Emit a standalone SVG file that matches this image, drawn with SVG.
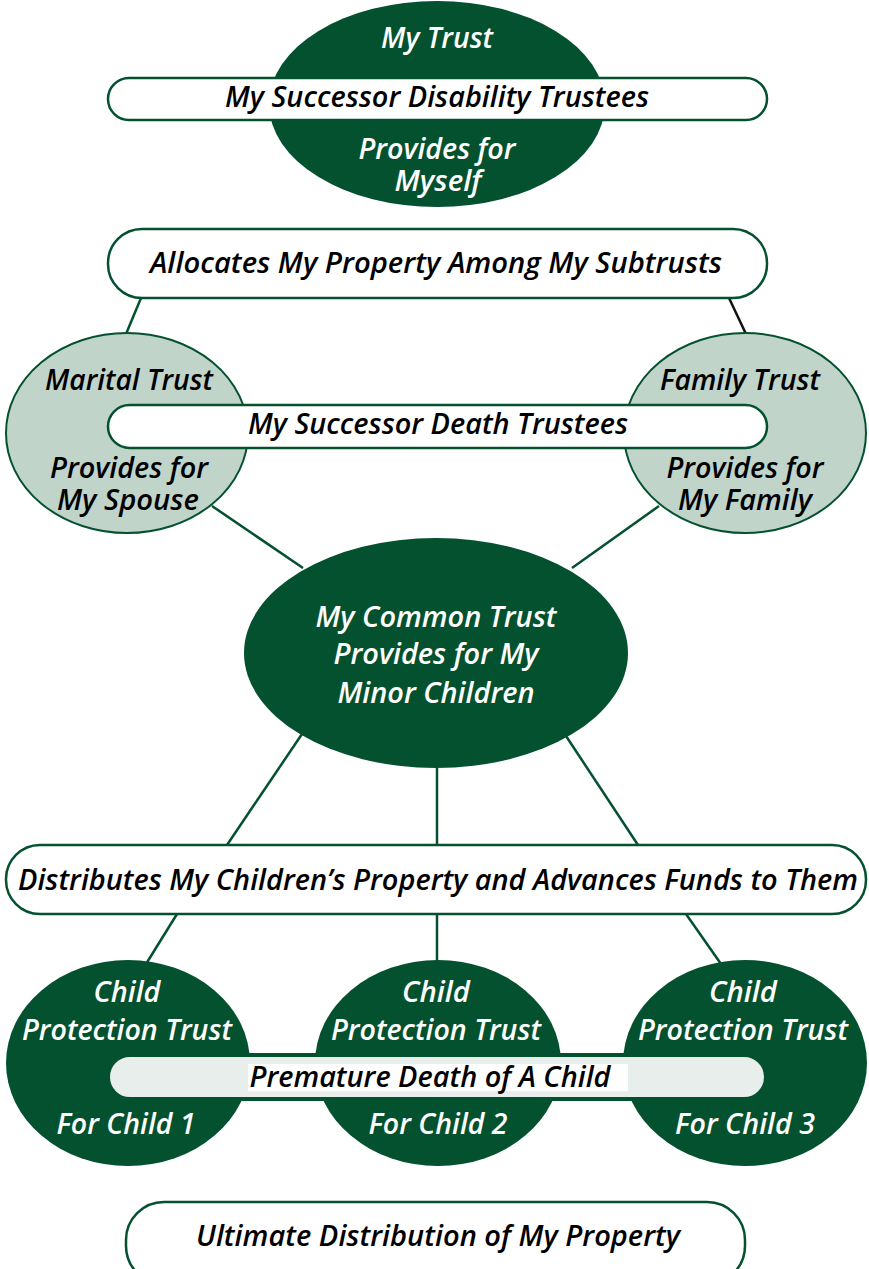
<svg xmlns="http://www.w3.org/2000/svg" width="869" height="1269" viewBox="0 0 869 1269">
  <style>
    .t { font-family: "Open Sans", "Liberation Sans", sans-serif; font-style: italic; font-weight: 600; font-size: 29px; text-anchor: middle; }
    .w { fill: #ffffff; }
    .k { fill: #000000; }
    .dark { fill: #03512f; }
    .sage { fill: #c0d4c9; stroke: #03512f; stroke-width: 2; }
    .pill { fill: #ffffff; stroke: #03512f; stroke-width: 2.5; }
    .link { stroke: #03512f; stroke-width: 2.5; fill: none; }
  </style>

  <!-- connectors -->
  <g id="connectors">
    <line class="link" x1="141" y1="298" x2="126" y2="334"/>
    <line x1="729" y1="298" x2="746" y2="334" stroke="#111111" stroke-width="2.5"/>
    <line class="link" x1="212" y1="506" x2="303" y2="568"/>
    <line class="link" x1="659" y1="506" x2="572" y2="568"/>
    <line class="link" x1="302" y1="734" x2="227" y2="845"/>
    <line class="link" x1="437" y1="766" x2="437" y2="845"/>
    <line class="link" x1="566" y1="736" x2="638" y2="845"/>
    <line class="link" x1="177" y1="914" x2="146" y2="964"/>
    <line class="link" x1="437" y1="914" x2="437" y2="962"/>
    <line class="link" x1="686" y1="914" x2="721" y2="964"/>
  </g>

  <!-- top trust -->
  <g id="my-trust">
    <ellipse class="dark" cx="437" cy="104" rx="168" ry="103"/>
    <text class="t w" x="437" y="48" textLength="112" lengthAdjust="spacingAndGlyphs">My Trust</text>
    <rect class="pill" x="108" y="78" width="659" height="42" rx="21"/>
    <text class="t k" x="437" y="107" textLength="424" lengthAdjust="spacingAndGlyphs">My Successor Disability Trustees</text>
    <text class="t w" x="437" y="159" textLength="157" lengthAdjust="spacingAndGlyphs">Provides for</text>
    <text class="t w" x="438" y="191" textLength="87" lengthAdjust="spacingAndGlyphs">Myself</text>
  </g>

  <g id="allocates">
    <rect class="pill" x="108" y="229" width="659" height="69" rx="34"/>
    <text class="t k" x="436" y="273" textLength="572" lengthAdjust="spacingAndGlyphs">Allocates My Property Among My Subtrusts</text>
  </g>

  <!-- subtrusts -->
  <g id="marital-trust">
    <ellipse class="sage" cx="127" cy="433" rx="121" ry="100"/>
    <text class="t k" x="129" y="390" textLength="168" lengthAdjust="spacingAndGlyphs">Marital Trust</text>
    <text class="t k" x="129" y="478" textLength="158" lengthAdjust="spacingAndGlyphs">Provides for</text>
    <text class="t k" x="128" y="510" textLength="142" lengthAdjust="spacingAndGlyphs">My Spouse</text>
  </g>

  <g id="family-trust">
    <ellipse class="sage" cx="745" cy="433" rx="121" ry="100"/>
    <text class="t k" x="740" y="390" textLength="160" lengthAdjust="spacingAndGlyphs">Family Trust</text>
    <text class="t k" x="745" y="478" textLength="157" lengthAdjust="spacingAndGlyphs">Provides for</text>
    <text class="t k" x="745" y="510" textLength="134" lengthAdjust="spacingAndGlyphs">My Family</text>
  </g>

  <g id="death-trustees">
    <rect class="pill" x="108" y="405" width="659" height="43" rx="21.5"/>
    <text class="t k" x="438" y="434" textLength="380" lengthAdjust="spacingAndGlyphs">My Successor Death Trustees</text>
  </g>

  <!-- common trust -->
  <g id="common-trust">
    <ellipse class="dark" cx="436" cy="653" rx="192" ry="115"/>
    <text class="t w" x="436" y="627" textLength="241" lengthAdjust="spacingAndGlyphs">My Common Trust</text>
    <text class="t w" x="436" y="664" textLength="205" lengthAdjust="spacingAndGlyphs">Provides for My</text>
    <text class="t w" x="436" y="703" textLength="197" lengthAdjust="spacingAndGlyphs">Minor Children</text>
  </g>

  <g id="distributes">
    <rect class="pill" x="6" y="845" width="860" height="69" rx="34"/>
    <text class="t k" x="438" y="890" textLength="840" lengthAdjust="spacingAndGlyphs">Distributes My Children’s Property and Advances Funds to Them</text>
  </g>

  <!-- child protection trusts -->
  <g id="child-1">
    <ellipse class="dark" cx="128" cy="1063" rx="122" ry="103"/>
    <text class="t w" x="127" y="1002" textLength="67" lengthAdjust="spacingAndGlyphs">Child</text>
    <text class="t w" x="127" y="1040" textLength="210" lengthAdjust="spacingAndGlyphs">Protection Trust</text>
    <text class="t w" x="126" y="1134" textLength="139" lengthAdjust="spacingAndGlyphs">For Child 1</text>
  </g>

  <g id="child-2">
    <ellipse class="dark" cx="438" cy="1063" rx="123" ry="103"/>
    <text class="t w" x="436" y="1002" textLength="68" lengthAdjust="spacingAndGlyphs">Child</text>
    <text class="t w" x="436" y="1040" textLength="210" lengthAdjust="spacingAndGlyphs">Protection Trust</text>
    <text class="t w" x="438" y="1134" textLength="139" lengthAdjust="spacingAndGlyphs">For Child 2</text>
  </g>

  <g id="child-3">
    <ellipse class="dark" cx="745" cy="1063" rx="122" ry="103"/>
    <text class="t w" x="743" y="1002" textLength="68" lengthAdjust="spacingAndGlyphs">Child</text>
    <text class="t w" x="743" y="1040" textLength="210" lengthAdjust="spacingAndGlyphs">Protection Trust</text>
    <text class="t w" x="745" y="1134" textLength="140" lengthAdjust="spacingAndGlyphs">For Child 3</text>
  </g>

  <g id="premature-death">
    <rect x="108" y="1055" width="658" height="44" rx="22" fill="#e8eeeb" stroke="#03512f" stroke-width="4"/>
    <rect x="248" y="1064" width="380" height="27" fill="#ffffff"/>
    <text class="t k" x="430" y="1087" textLength="361" lengthAdjust="spacingAndGlyphs">Premature Death of A Child</text>
  </g>

  <g id="ultimate-distribution">
    <rect class="pill" x="126" y="1202" width="619" height="82" rx="38"/>
    <text class="t k" x="438" y="1246" textLength="484" lengthAdjust="spacingAndGlyphs">Ultimate Distribution of My Property</text>
  </g>
</svg>
